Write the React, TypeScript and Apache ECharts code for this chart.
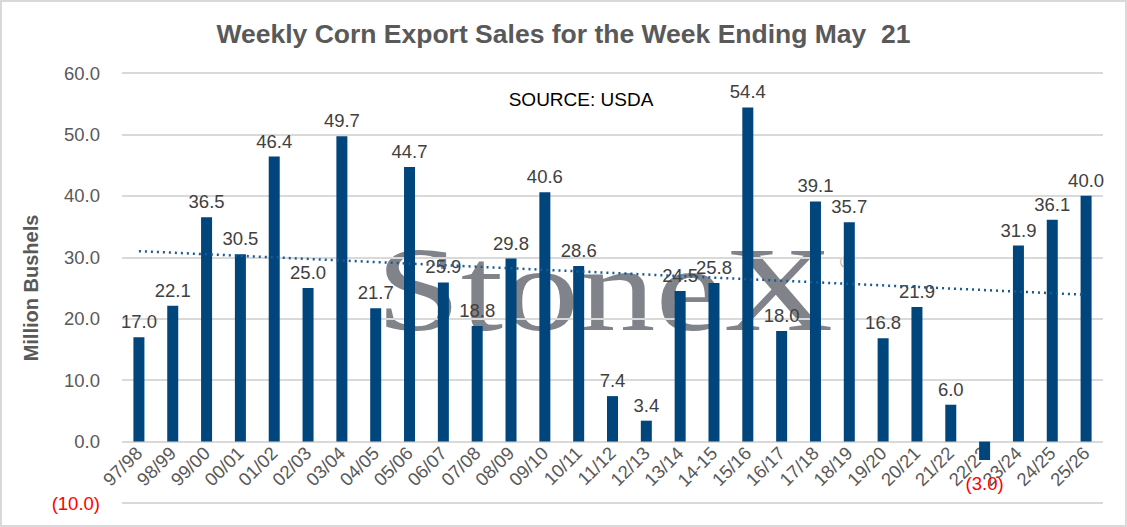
import React, { useEffect, useRef } from "react";
import * as echarts from "echarts";

// Marketing years shown on the category axis
const seasons = [
  "97/98", "98/99", "99/00", "00/01", "01/02", "02/03", "03/04", "04/05",
  "05/06", "06/07", "07/08", "08/09", "09/10", "10/11", "11/12", "12/13",
  "13/14", "14-15", "15/16", "16/17", "17/18", "18/19", "19/20", "20/21",
  "21/22", "22/23", "23/24", "24/25", "25/26",
];

// Net weekly corn export sales, million bushels
const weeklySales = [
  17.0, 22.1, 36.5, 30.5, 46.4, 25.0, 49.7, 21.7, 44.7, 25.9,
  18.8, 29.8, 40.6, 28.6, 7.4, 3.4, 24.5, 25.8, 54.4, 18.0,
  39.1, 35.7, 16.8, 21.9, 6.0, -3.0, 31.9, 36.1, 40.0,
];

// Linear trend line: value at the first and at the last season
const trendEnds = [31.0, 23.9];

const yMin = -10;
const yMax = 60;
const yStep = 10;

const SANS = "'Liberation Sans', Arial, Helvetica, sans-serif";
const GREY = "#595959";
const RED = "#ff0000";
const BAR = "#00457c";
const FS = 18.5;

const fmt = (v: number) =>
  v < 0 ? `(${Math.abs(v).toFixed(1)})` : v.toFixed(1);

export default function App() {
  const ref = useRef<HTMLDivElement>(null);

  useEffect(() => {
    if (!ref.current) return;
    const chart = echarts.init(ref.current, undefined, { renderer: "svg" });

    const barData = weeklySales.map((v) =>
      v < 0
        ? { value: v, label: { position: "bottom", color: RED, distance: 14 } }
        : v
    );

    const trendData = seasons.map((_, i) =>
      i === 0 ? trendEnds[0] : i === seasons.length - 1 ? trendEnds[1] : null
    );

    chart.setOption({
      animation: false,
      backgroundColor: "#ffffff",
      title: {
        text: "Weekly Corn Export Sales for the Week Ending May  21",
        left: "center",
        top: 15,
        textStyle: {
          fontFamily: SANS,
          fontSize: 26.5,
          fontWeight: "bold",
          color: GREY,
        },
      },
      grid: {
        left: 122,
        right: 24,
        top: 73,
        bottom: 24,
        containLabel: false,
        outerBoundsMode: "none",
      },
      xAxis: {
        type: "category",
        data: seasons,
        position: "bottom",
        // category labels sit just under the zero line
        offset: -62,
        axisLine: { show: false, onZero: false },
        axisTick: { show: false },
        axisLabel: {
          interval: 0,
          rotate: 45,
          margin: 9,
          fontFamily: SANS,
          fontSize: FS,
          color: GREY,
        },
      },
      yAxis: {
        type: "value",
        min: yMin,
        max: yMax,
        interval: yStep,
        name: "Million Bushels",
        nameLocation: "middle",
        nameGap: 70,
        nameRotate: 90,
        nameTextStyle: {
          fontFamily: SANS,
          fontSize: 20,
          fontWeight: "bold",
          color: GREY,
        },
        axisLine: { show: false },
        axisTick: { show: false },
        axisLabel: {
          margin: 22,
          fontFamily: SANS,
          fontSize: FS,
          color: GREY,
          formatter: (v: number) => (v < 0 ? `{neg|${fmt(v)}}` : fmt(v)),
          rich: {
            neg: { color: RED, fontFamily: SANS, fontSize: FS },
          },
        },
        splitLine: {
          show: true,
          showMinLine: true,
          showMaxLine: true,
          lineStyle: { color: "#d9d9d9", width: 2 },
        },
      },
      graphic: [
        {
          type: "text",
          x: 376,
          y: 290,
          scaleX: 1.27,
          z: -100,
          zlevel: 0,
          style: {
            text: "StoneX",
            font: "120px 'Liberation Serif', 'Times New Roman', serif",
            fill: "#80838a",
            align: "left",
            verticalAlign: "middle",
          },
        },
        {
          type: "text",
          x: 846,
          y: 262,
          z: -100,
          style: {
            text: "®",
            font: "16px " + SANS,
            fill: "#9a9ca0",
            align: "center",
            verticalAlign: "middle",
          },
        },
        {
          type: "text",
          x: 581,
          y: 99,
          z: 20,
          style: {
            text: "SOURCE: USDA",
            font: "19px " + SANS,
            fill: "#000000",
            align: "center",
            verticalAlign: "middle",
          },
        },
        {
          type: "rect",
          z: 30,
          shape: { x: 1, y: 1, width: 1125, height: 525 },
          style: { fill: "none", stroke: "#d9d9d9", lineWidth: 2 },
        },
      ],
      series: [
        {
          type: "bar",
          data: barData,
          barWidth: 11,
          itemStyle: { color: BAR },
          z: 3,
          label: {
            show: true,
            position: "top",
            distance: 6,
            fontFamily: SANS,
            fontSize: FS,
            color: "#404040",
            formatter: (p: any) => fmt(Number(p.value)),
          },
        },
        {
          type: "line",
          data: trendData,
          connectNulls: true,
          symbol: "none",
          z: 4,
          lineStyle: { color: "#1a5a92", width: 2.5, type: [2, 4] },
        },
      ],
    });

    return () => chart.dispose();
  }, []);

  return (
    <div
      ref={ref}
      style={{ position: "absolute", left: 0, top: 0, width: 1127, height: 527 }}
    />
  );
}
